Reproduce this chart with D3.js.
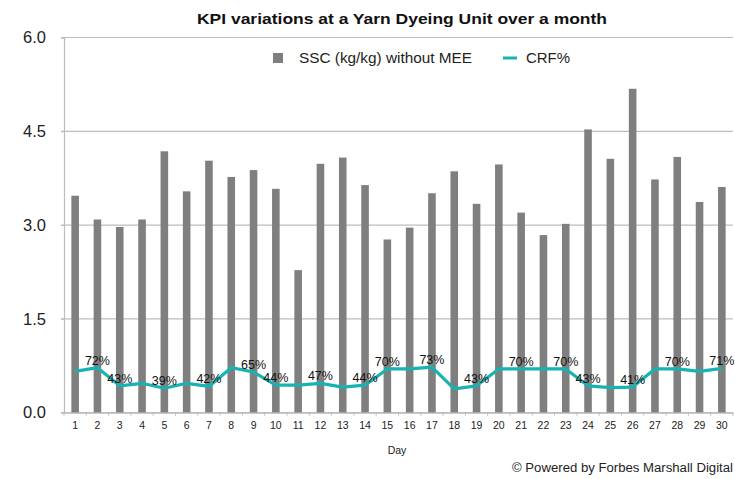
<!DOCTYPE html>
<meta charset="utf-8">
<style>
  body { margin: 0; background: #fff; }
  text { font-family: "Liberation Sans", Arial, sans-serif; }
</style>
<body>
<script src="https://d3js.org/d3.v7.min.js"></script>
<script>

// Daily values
var days = d3.range(1, 31).map(String);
var ssc = [3.47, 3.09, 2.97, 3.09, 4.18, 3.54, 4.03, 3.77, 3.88, 3.58,
           2.28, 3.98, 4.08, 3.64, 2.77, 2.96, 3.51, 3.86, 3.34, 3.97,
           3.20, 2.84, 3.02, 4.53, 4.06, 5.18, 3.73, 4.09, 3.37, 3.61];
var crf = [0.66, 0.72, 0.43, 0.47, 0.39, 0.47, 0.42, 0.72, 0.65, 0.44,
           0.44, 0.47, 0.41, 0.44, 0.70, 0.70, 0.73, 0.38, 0.43, 0.70,
           0.70, 0.70, 0.70, 0.43, 0.40, 0.41, 0.70, 0.70, 0.66, 0.71];
// days that carry a data label on the CRF line
var labelledDays = [2, 3, 5, 7, 9, 10, 12, 14, 15, 17, 19, 21, 23, 24, 26, 28, 30];
var yTicks = [0, 1.5, 3.0, 4.5, 6.0];

var W = 735, H = 479;
var margin = {top: 37.5, right: 2, bottom: 66.3, left: 64},
    width = W - margin.left - margin.right,
    height = H - margin.top - margin.bottom;

var svg = d3.select("body").append("svg")
    .attr("width", W)
    .attr("height", H);

var g = svg.append("g")
    .attr("transform", "translate(" + margin.left + "," + margin.top + ")");

var x = d3.scaleBand().domain(days).range([0, width])
    .paddingInner(0.66).paddingOuter(0.33);
var y = d3.scaleLinear().domain([0, 6]).range([height, 0]);

// gridlines
g.selectAll(".grid")
    .data(yTicks)
  .enter().append("line")
    .attr("x1", -3)
    .attr("x2", width)
    .attr("y1", function(d) { return y(d); })
    .attr("y2", function(d) { return y(d); })
    .attr("stroke", "#bdbdbd")
    .attr("stroke-width", 1.2);

// y axis
var yAxis = g.append("g")
    .call(d3.axisLeft(y).tickValues(yTicks).tickFormat(d3.format(".1f")).tickSize(3).tickPadding(15));
yAxis.select(".domain").attr("stroke", "#bdbdbd").attr("stroke-width", 1.2);
yAxis.selectAll(".tick line").attr("stroke", "#bdbdbd");
yAxis.selectAll("text")
    .style("font-size", "16.5px")
    .attr("fill", "#222");

// bars
g.selectAll(".bar")
    .data(ssc)
  .enter().append("rect")
    .attr("class", "bar")
    .attr("x", function(d, i) { return x(days[i]); })
    .attr("width", x.bandwidth())
    .attr("y", function(d) { return y(d); })
    .attr("height", function(d) { return height - y(d); })
    .attr("fill", "#7f7f7f");

// x axis
var band = x.step();
var xAxis = g.append("g")
    .attr("transform", "translate(0," + height + ")")
    .call(d3.axisBottom(x).tickSize(0).tickPadding(9));
xAxis.select(".domain").attr("stroke", "#bdbdbd").attr("stroke-width", 1.2);
xAxis.selectAll("text")
    .style("font-size", "10.5px")
    .attr("fill", "#222");
// small separators between categories
xAxis.selectAll(".sep")
    .data(d3.range(0, 31))
  .enter().append("line")
    .attr("x1", function(d) { return d * band; })
    .attr("x2", function(d) { return d * band; })
    .attr("y1", 0)
    .attr("y2", 3)
    .attr("stroke", "#bdbdbd");

// CRF line
var line = d3.line()
    .x(function(d, i) { return x(days[i]) + x.bandwidth() / 2; })
    .y(function(d) { return y(d); });

g.append("path")
    .datum(crf)
    .attr("d", line)
    .attr("fill", "none")
    .attr("stroke", "#17b3b3")
    .attr("stroke-width", 3.2)
    .attr("stroke-linejoin", "round");

// data labels
g.selectAll(".lbl")
    .data(labelledDays)
  .enter().append("text")
    .attr("x", function(d) { return x(String(d)) + x.bandwidth() / 2; })
    .attr("y", function(d) { return y(crf[d - 1]) - 3; })
    .attr("text-anchor", "middle")
    .style("font-size", "12.5px")
    .attr("fill", "#111")
    .text(function(d) { return Math.round(crf[d - 1] * 100) + "%"; });

// title
svg.append("text")
    .attr("x", 402)
    .attr("y", 24)
    .attr("text-anchor", "middle")
    .attr("textLength", 410)
    .attr("lengthAdjust", "spacingAndGlyphs")
    .style("font-size", "15.5px")
    .style("font-weight", "bold")
    .attr("fill", "#111")
    .text("KPI variations at a Yarn Dyeing Unit over a month");

// legend
var leg = svg.append("g");
leg.append("rect")
    .attr("x", 273).attr("y", 53)
    .attr("width", 10).attr("height", 10)
    .attr("fill", "#7f7f7f");
leg.append("text")
    .attr("x", 299).attr("y", 63)
    .attr("textLength", 173)
    .attr("lengthAdjust", "spacingAndGlyphs")
    .style("font-size", "14px")
    .attr("fill", "#222")
    .text("SSC (kg/kg) without MEE");
leg.append("line")
    .attr("x1", 503).attr("x2", 517)
    .attr("y1", 58).attr("y2", 58)
    .attr("stroke", "#17b3b3")
    .attr("stroke-width", 3);
leg.append("text")
    .attr("x", 526).attr("y", 63)
    .attr("textLength", 44)
    .attr("lengthAdjust", "spacingAndGlyphs")
    .style("font-size", "14px")
    .attr("fill", "#222")
    .text("CRF%");

// axis title
svg.append("text")
    .attr("x", 397)
    .attr("y", 454)
    .attr("text-anchor", "middle")
    .style("font-size", "10.5px")
    .attr("fill", "#222")
    .text("Day");

// footer
svg.append("text")
    .attr("x", 512)
    .attr("y", 472)
    .attr("textLength", 221)
    .attr("lengthAdjust", "spacingAndGlyphs")
    .style("font-size", "12.5px")
    .attr("fill", "#222")
    .text("© Powered by Forbes Marshall Digital");

</script>
</body>
